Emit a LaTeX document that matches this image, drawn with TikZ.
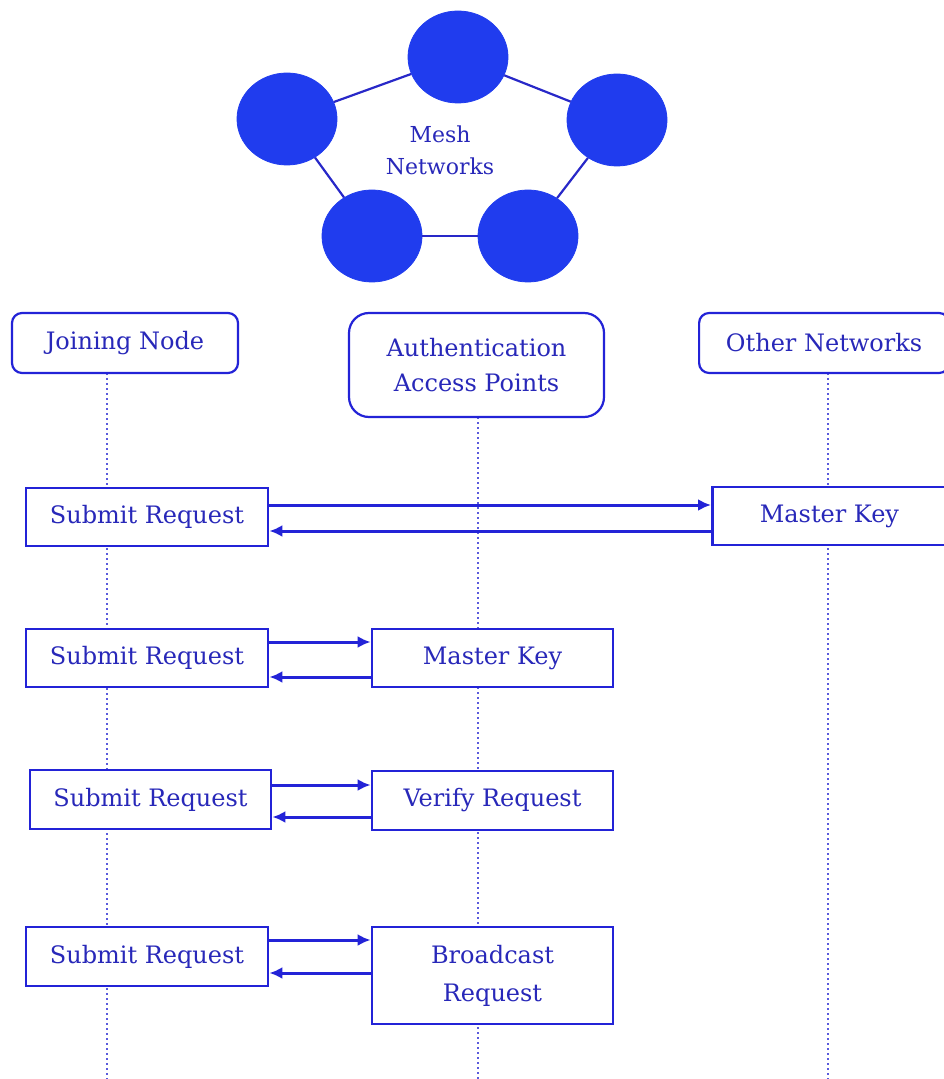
\documentclass[tikz,border=0pt]{standalone}
\usepackage{fontspec}
\setmainfont{DejaVu Serif}
\usetikzlibrary{arrows.meta,calc,shapes.geometric}
\definecolor{nodeblue}{RGB}{32,60,238}
\definecolor{lineblue}{RGB}{40,40,200}
\definecolor{txtblue}{RGB}{40,40,185}
\definecolor{boxblue}{RGB}{35,35,215}
\definecolor{dotblue}{RGB}{90,90,220}
\begin{document}
\begin{tikzpicture}[x=0.5pt,y=-0.5pt,
  meshnode/.style={ellipse,fill=nodeblue,draw=nodeblue,minimum width=50pt,minimum height=46pt,inner sep=0pt},
  meshlink/.style={draw=lineblue,line width=1.1pt},
  header/.style={draw=boxblue,line width=1.1pt,rounded corners=5pt,fill=white,text=txtblue,align=center,inner sep=0pt,font=\fontsize{12}{17.5}\selectfont},
  msgbox/.style={draw=boxblue,line width=1.4pt,fill=white,text=txtblue,align=center,inner sep=0pt,font=\fontsize{12}{19}\selectfont},
  lifeline/.style={draw=dotblue,line width=0.9pt,dash pattern=on 1pt off 1.5pt},
  msg/.style={draw=boxblue,line width=1.5pt,-{Latex[length=6.5pt,width=6pt]}}
]
\useasboundingbox (0,0) rectangle (943,1079);

% mesh network
\node[meshnode] (mt) at (458,57) {};
\node[meshnode] (ml) at (287,119) {};
\node[meshnode] (mr) at (617,120) {};
\node[meshnode] (mbl) at (372,236) {};
\node[meshnode] (mbr) at (528,236) {};
\draw[meshlink] (ml) -- (mt);
\draw[meshlink] (mt) -- (mr);
\draw[meshlink] (mr) -- (mbr);
\draw[meshlink] (mbr) -- (mbl);
\draw[meshlink] (mbl) -- (ml);
\node[text=txtblue,align=center,font=\fontsize{11}{16}\selectfont] (meshlabel) at (440,150) {Mesh\\Networks};

% lifelines
\coordinate (l1t) at (107,373); \coordinate (l1b) at (107,1079);
\coordinate (l2t) at (478,417); \coordinate (l2b) at (478,1079);
\coordinate (l3t) at (828,373); \coordinate (l3b) at (828,1079);
\draw[lifeline] (l1t) -- (l1b);
\draw[lifeline] (l2t) -- (l2b);
\draw[lifeline] (l3t) -- (l3b);

% headers
\node[header,minimum width=113pt,minimum height=30pt] (jn) at (125,343) {Joining Node};
\node[header,rounded corners=10pt,minimum width=127.5pt,minimum height=52pt] (aap) at (476.5,365) {Authentication\\Access Points};
\node[header,minimum width=125pt,minimum height=30pt,anchor=west] (on) at (698,343) {Other Networks};

% row 1
\node[msgbox,minimum width=121pt,minimum height=29pt] (s1) at (147,517) {Submit Request};
\node[msgbox,minimum width=117pt,minimum height=29pt,anchor=west] (mk1) at (711,516) {Master Key};
\path ([yshift=6pt]s1.east) coordinate (a1);
\path ([yshift=-7.5pt]mk1.west) coordinate (b1);
\draw[msg] (a1) -- (a1 -| mk1.west);
\draw[msg] (b1) -- (b1 -| s1.east);

% row 2
\node[msgbox,minimum width=121pt,minimum height=29pt] (s2) at (147,658) {Submit Request};
\node[msgbox,minimum width=120.5pt,minimum height=29pt] (mk2) at (492.5,658) {Master Key};
\path ([yshift=8pt]s2.east) coordinate (a2);
\path ([yshift=-9.5pt]mk2.west) coordinate (b2);
\draw[msg] (a2) -- (a2 -| mk2.west);
\draw[msg] (b2) -- (b2 -| s2.east);

% row 3
\node[msgbox,minimum width=120.5pt,minimum height=29.5pt] (s3) at (150.5,799.5) {Submit Request};
\node[msgbox,minimum width=120.5pt,minimum height=29.5pt] (vr) at (492.5,800.5) {Verify Request};
\path ([yshift=7.25pt]s3.east) coordinate (a3);
\path ([yshift=-8.75pt]s3.east) coordinate (b3);
\draw[msg] (a3) -- (a3 -| vr.west);
\draw[msg] (b3 -| vr.west) -- (b3);

% row 4
\node[msgbox,minimum width=121pt,minimum height=29.5pt] (s4) at (147,956.5) {Submit Request};
\node[msgbox,minimum width=120.5pt,minimum height=48.5pt] (br) at (492.5,975.5) {Broadcast\\Request};
\path ([yshift=8.25pt]s4.east) coordinate (a4);
\path ([yshift=-8.25pt]s4.east) coordinate (b4);
\draw[msg] (a4) -- (a4 -| br.west);
\draw[msg] (b4 -| br.west) -- (b4);
\end{tikzpicture}
\end{document}
